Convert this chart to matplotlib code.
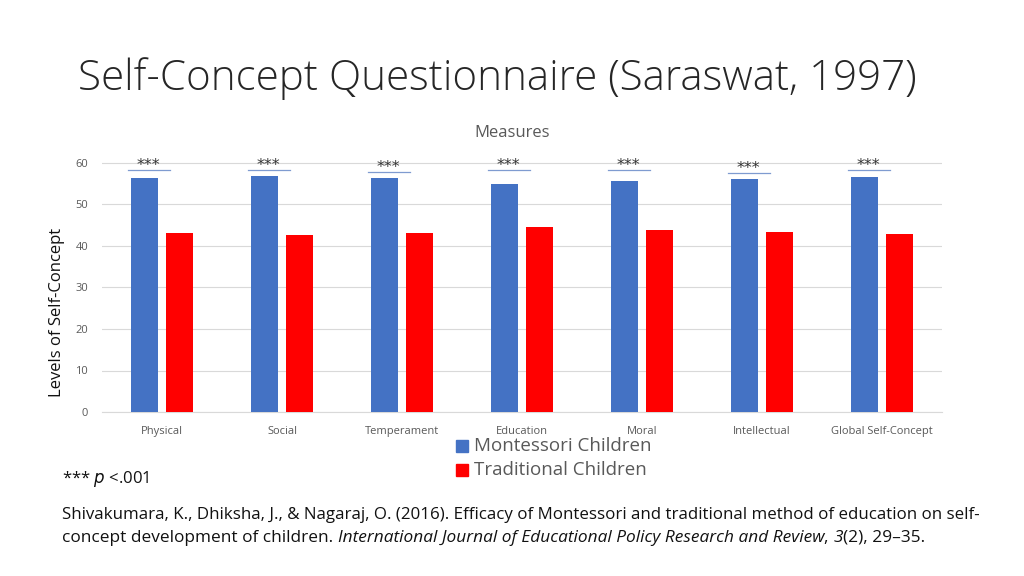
import matplotlib.pyplot as plt
import numpy as np

categories = ["Physical", "Social", "Temperament", "Education", "Moral", "Intellectual", "Global Self-Concept"]
montessori = [56.3, 56.9, 56.3, 54.9, 55.7, 56.1, 56.6]
traditional = [43.1, 42.7, 43.1, 44.6, 43.9, 43.4, 42.9]
sig_y = [58.2, 58.2, 57.8, 58.2, 58.2, 57.5, 58.2]
yticks = [0, 10, 20, 30, 40, 50, 60]

BLUE = "#4472C4"
RED = "#FF0000"
GRAY = "#595959"

plt.rcParams['font.family'] = ['Open Sans', 'DejaVu Sans']

fig = plt.figure(figsize=(10.24, 5.76), dpi=100)
W, H = 1024, 576
ax = fig.add_axes([102 / W, 1 - 412 / H, 840 / W, (412 - 163) / H * 62 / 60])

x = np.arange(len(categories))
bw = 0.225
off = 0.146
ax.bar(x - off, montessori, bw, color=BLUE, zorder=3)
ax.bar(x + off, traditional, bw, color=RED, zorder=3)

for xi, sy in zip(x, sig_y):
    ax.plot([xi - off - 0.14, xi - off + 0.21], [sy, sy], color="#7F9BD0", lw=0.9, zorder=4, clip_on=False)
    ax.text(xi - off + 0.035, sy - 0.6, "***", ha="center", va="bottom", fontsize=11.5, color="#333333",
            family="DejaVu Sans", zorder=5)

ax.set_xlim(-0.5, len(categories) - 0.5)
ax.set_ylim(0, 62)
ax.set_yticks(yticks)
ax.set_xticks(x)
ax.set_xticklabels(categories)
ax.tick_params(axis='both', length=0, labelsize=8, colors=GRAY, pad=10)
ax.tick_params(axis='y', pad=10)
ax.grid(axis='y', color="#D9D9D9", lw=0.8, zorder=0)
for s in ["top", "right", "left"]:
    ax.spines[s].set_visible(False)
ax.spines["bottom"].set_color("#D9D9D9")

fig.text(78 / W, 1 - 79 / H, "Self-Concept Questionnaire (Saraswat, 1997)", fontsize=30.3, fontweight="light",
         va="center", ha="left", color="#262626")
fig.text(512 / W, 1 - 133 / H, "Measures", fontsize=12, color=GRAY, ha="center", va="center")
fig.text(57 / W, 1 - 312 / H, "Levels of Self-Concept", fontsize=12, rotation=90, ha="center", va="center", color="#111111")

# legend
for i, (lab, col) in enumerate([("Montessori Children", BLUE), ("Traditional Children", RED)]):
    yy = 1 - (446 + 24 * i) / H
    fig.patches.append(plt.Rectangle((456 / W, yy - 6 / H), 12 / W, 12 / H, color=col, transform=fig.transFigure))
    fig.text(474 / W, yy, lab, fontsize=13.5, color=GRAY, ha="left", va="center")

fig.text(62 / W, 1 - 479 / H, r"*** $\it{p}$ <.001", fontsize=12, ha="left", va="center", color="#111111")
fig.text(62 / W, 1 - 515 / H,
         "Shivakumara, K., Dhiksha, J., & Nagaraj, O. (2016). Efficacy of Montessori and traditional method of education on self-",
         fontsize=12.2, ha="left", va="center", color="#111111")

renderer = fig.canvas.get_renderer()
pieces = [("concept development of children. ", "normal"),
          ("International Journal of Educational Policy Research and Review", "italic"),
          (", ", "normal"), ("3", "italic"), ("(2), 29\u201335.", "normal")]
xpos = 62 / W
for txt, st in pieces:
    t = fig.text(xpos, 1 - 538 / H, txt, fontsize=12.4, style=st, ha="left", va="center", color="#111111")
    bb = t.get_window_extent(renderer)
    xpos = bb.x1 / W

fig.savefig("out.png", dpi=100)
